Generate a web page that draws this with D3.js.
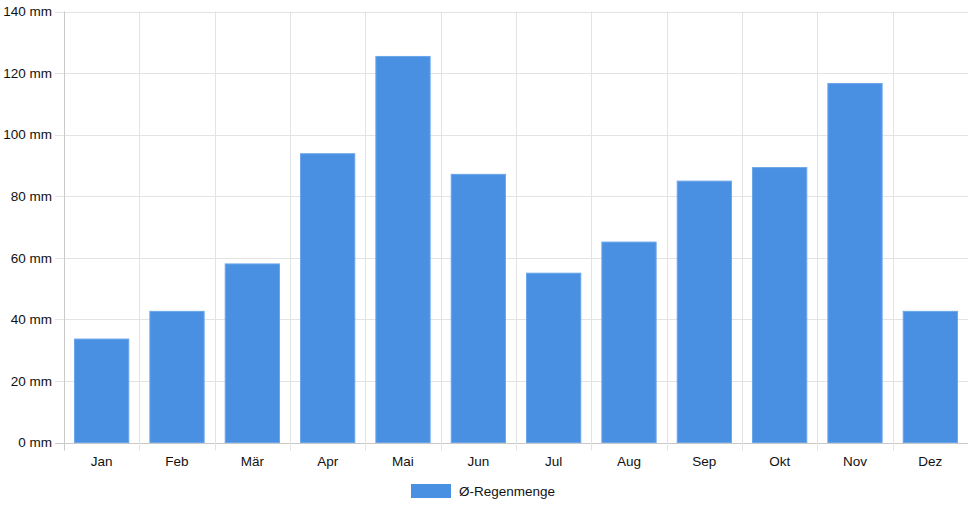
<!DOCTYPE html>
<html>
<head>
<meta charset="utf-8">
<script src="https://cdn.jsdelivr.net/npm/d3@7"></script>
<style>
  body { margin: 0; background: #fff; }
  svg { display: block; font-family: "Liberation Sans", Arial, Helvetica, sans-serif; }
</style>
</head>
<body>
<svg id="chart" width="968" height="508"></svg>
<script>
const months = ['Jan', 'Feb', 'Mär', 'Apr', 'Mai', 'Jun', 'Jul', 'Aug', 'Sep', 'Okt', 'Nov', 'Dez']
const rain = [33.6, 42.6, 58.0, 93.8, 125.4, 87.1, 55.0, 65.1, 84.9, 89.3, 116.6, 42.6]
const yTicks = [0, 20, 40, 60, 80, 100, 120, 140]
const seriesName = 'Ø-Regenmenge'

const svg = d3.select('#chart')
// plot area edges
const plotLeft = 64, plotRight = 968, plotTop = 11.5, plotBottom = 442.5

let x = d3.scaleBand().domain(months).range([plotLeft, plotRight])
let y = d3.scaleLinear().domain([0, 140]).range([plotBottom, plotTop])

const gridColor = '#e3e3e3'
const axisColor = '#c9c9c9'
const textColor = '#111'

// horizontal grid + tick marks
svg.append('g')
    .selectAll('line')
    .data(yTicks)
    .enter()
    .append('line')
    .attr('x1', plotLeft - 9)
    .attr('x2', plotRight)
    .attr('y1', d => Math.round(y(d)) + 0.5)
    .attr('y2', d => Math.round(y(d)) + 0.5)
    .attr('stroke', d => d === 0 ? axisColor : gridColor)

// vertical grid lines at category boundaries
let bounds = months.map(m => x(m)).concat([plotRight])
svg.append('g')
    .selectAll('line')
    .data(bounds)
    .enter()
    .append('line')
    .attr('x1', d => Math.round(d) + 0.5)
    .attr('x2', d => Math.round(d) + 0.5)
    .attr('y1', plotTop)
    .attr('y2', plotBottom + 8)
    .attr('stroke', (d, i) => i === 0 ? axisColor : gridColor)

// y labels
svg.append('g')
    .selectAll('text')
    .data(yTicks)
    .enter()
    .append('text')
    .attr('x', 52)
    .attr('y', d => y(d))
    .attr('dy', '0.35em')
    .attr('text-anchor', 'end')
    .attr('font-size', '13.5px')
    .attr('fill', textColor)
    .text(d => d + ' mm')

// bars (80% category * 90% bar)
const inner = x.bandwidth() * 0.72
svg.append('g')
    .selectAll('rect')
    .data(rain)
    .enter()
    .append('rect')
    .attr('x', (d, i) => x(months[i]) + (x.bandwidth() - inner) / 2)
    .attr('width', inner)
    .attr('y', d => y(d))
    .attr('height', d => y(0) - y(d))
    .attr('fill', '#4a90e2')
    .attr('stroke', '#6aa5ea')
    .attr('stroke-width', 1)

// x labels
svg.append('g')
    .selectAll('text')
    .data(months)
    .enter()
    .append('text')
    .attr('x', d => x(d) + x.bandwidth() / 2)
    .attr('y', 466)
    .attr('text-anchor', 'middle')
    .attr('font-size', '13.5px')
    .attr('fill', textColor)
    .text(d => d)

// legend
let legend = svg.append('g')
legend.append('rect')
    .attr('x', 411)
    .attr('y', 484)
    .attr('width', 40)
    .attr('height', 14)
    .attr('fill', '#4a90e2')
legend.append('text')
    .attr('x', 459)
    .attr('y', 495.5)
    .attr('font-size', '13.5px')
    .attr('fill', textColor)
    .text(seriesName)
</script>
</body>
</html>
